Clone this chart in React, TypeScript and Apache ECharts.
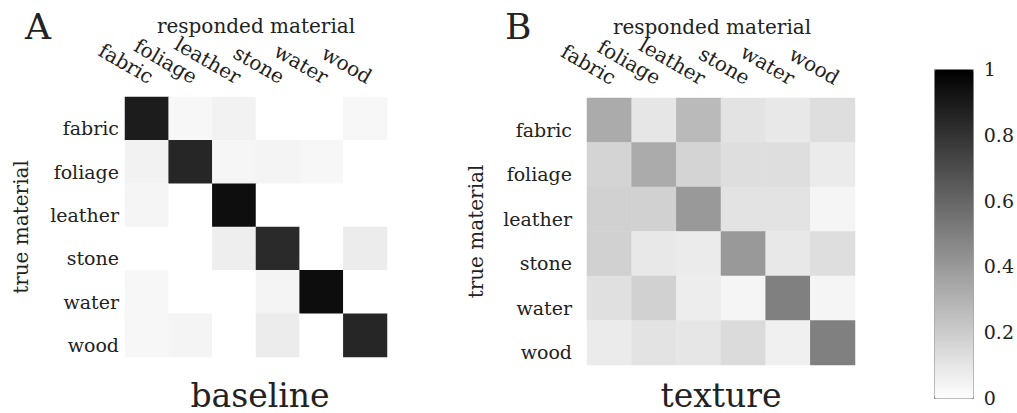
import React, { useEffect, useRef } from "react";
import * as echarts from "echarts";

const materials = ["fabric", "foliage", "leather", "stone", "water", "wood"];

// rows = true material, columns = responded material
const baselineMatrix = [
  [0.89, 0.03, 0.05, 0.0, 0.0, 0.03],
  [0.05, 0.85, 0.035, 0.045, 0.03, 0.0],
  [0.04, 0.0, 0.945, 0.0, 0.0, 0.0],
  [0.0, 0.0, 0.065, 0.835, 0.0, 0.075],
  [0.03, 0.0, 0.0, 0.045, 0.95, 0.0],
  [0.03, 0.045, 0.0, 0.075, 0.0, 0.85],
];

const textureMatrix = [
  [0.33, 0.1, 0.27, 0.11, 0.09, 0.13],
  [0.17, 0.33, 0.17, 0.13, 0.13, 0.08],
  [0.18, 0.18, 0.4, 0.11, 0.11, 0.04],
  [0.18, 0.09, 0.08, 0.4, 0.09, 0.13],
  [0.12, 0.18, 0.07, 0.04, 0.5, 0.04],
  [0.08, 0.11, 0.1, 0.14, 0.06, 0.5],
];

const colorbarMin = 0;
const colorbarMax = 1;

const FONT = "'DejaVu Serif', 'Liberation Serif', serif";
const TEXT = "#222";

function toCells(m: number[][]) {
  const out: number[][] = [];
  m.forEach((row, r) => row.forEach((v, c) => out.push([c, r, v])));
  return out;
}

function heatAxes(gridIndex: number, yLabelMargin: number, yNameGap: number, xNamePad: number[]) {
  const xAxis = {
    type: "category",
    gridIndex,
    data: materials,
    position: "top",
    axisLine: { show: false },
    axisTick: { show: false },
    splitArea: { show: false },
    axisLabel: {
      rotate: 30,
      margin: 10,
      verticalAlign: "bottom",
      fontSize: 20,
      fontFamily: FONT,
      color: TEXT,
      interval: 0,
    },
    name: "responded material",
    nameLocation: "middle",
    nameGap: 61,
    nameMoveOverlap: false,
    nameTextStyle: { fontSize: 20, fontFamily: FONT, color: TEXT, padding: xNamePad },
  };
  const yAxis = {
    type: "category",
    gridIndex,
    data: materials,
    inverse: true,
    axisLine: { show: false },
    axisTick: { show: false },
    splitArea: { show: false },
    axisLabel: {
      margin: yLabelMargin,
      verticalAlign: "top",
      fontSize: 19,
      fontFamily: FONT,
      color: TEXT,
      interval: 0,
    },
    name: "true material",
    nameLocation: "middle",
    nameRotate: 90,
    nameGap: yNameGap,
    nameMoveOverlap: false,
    nameTextStyle: { fontSize: 20, fontFamily: FONT, color: TEXT },
  };
  return { xAxis, yAxis };
}

export default function App() {
  const ref = useRef<HTMLDivElement>(null);
  useEffect(() => {
    if (!ref.current) return;
    const chart = echarts.init(ref.current, undefined, { renderer: "svg" });
    const a = heatAxes(0, 6, 94, [0, 0, 0, 0]);
    const b = heatAxes(1, 15, 101, [0, 18, 0, 0]);
    chart.setOption({
      animation: false,
      backgroundColor: "#ffffff",
      textStyle: { fontFamily: FONT },
      grid: [
        { left: 125, top: 97, width: 262, height: 260 },
        { left: 587, top: 98, width: 268, height: 267 },
        { left: 934, top: 69, width: 39, height: 329 },
      ],
      xAxis: [
        a.xAxis,
        b.xAxis,
        { type: "value", gridIndex: 2, show: false, min: 0, max: 1 },
      ],
      yAxis: [
        a.yAxis,
        b.yAxis,
        {
          type: "value",
          gridIndex: 2,
          position: "right",
          min: colorbarMin,
          max: colorbarMax,
          interval: 0.2,
          axisLine: { show: false },
          axisTick: { show: false },
          splitLine: { show: false },
          axisLabel: { margin: 14, fontSize: 19, fontFamily: FONT, color: TEXT },
        },
        {
          type: "value",
          gridIndex: 2,
          position: "left",
          min: colorbarMin,
          max: colorbarMax,
          interval: 0.1,
          axisLine: { show: false },
          axisTick: { show: true, inside: true, length: 5, lineStyle: { color: "#555", width: 1 } },
          splitLine: { show: false },
          axisLabel: { show: false },
        },
      ],
      visualMap: {
        type: "continuous",
        min: colorbarMin,
        max: colorbarMax,
        seriesIndex: [0, 1],
        calculable: false,
        hoverLink: false,
        left: 934,
        top: 69,
        itemWidth: 39,
        itemHeight: 329,
        padding: 0,
        borderWidth: 1,
        borderColor: "#999",
        text: ["", ""],
        inRange: { color: ["#ffffff", "#000000"] },
      },
      series: [
        {
          type: "heatmap",
          xAxisIndex: 0,
          yAxisIndex: 0,
          data: toCells(baselineMatrix),
          emphasis: { disabled: true },
        },
        {
          type: "heatmap",
          xAxisIndex: 1,
          yAxisIndex: 1,
          data: toCells(textureMatrix),
          emphasis: { disabled: true },
        },
        {
          type: "scatter",
          xAxisIndex: 2,
          yAxisIndex: 3,
          data: [],
        },
      ],
      graphic: [
        { type: "text", left: 25, top: 8, style: { text: "A", font: `36px ${FONT}`, fill: TEXT } },
        { type: "text", left: 505, top: 8, style: { text: "B", font: `36px ${FONT}`, fill: TEXT } },
        {
          type: "text",
          x: 260,
          y: 395,
          style: { text: "baseline", font: `33px ${FONT}`, fill: TEXT, align: "center", verticalAlign: "middle" },
        },
        {
          type: "text",
          x: 721,
          y: 395,
          style: { text: "texture", font: `33px ${FONT}`, fill: TEXT, align: "center", verticalAlign: "middle" },
        },
      ],
    });
    return () => chart.dispose();
  }, []);
  return (
    <div
      ref={ref}
      style={{ position: "fixed", left: 0, top: 0, width: 1017, height: 413 }}
    />
  );
}
